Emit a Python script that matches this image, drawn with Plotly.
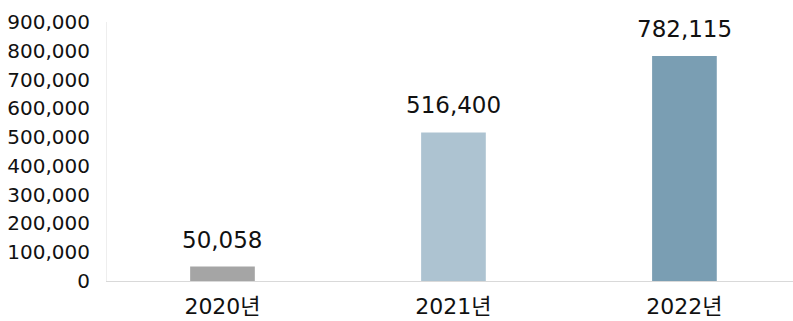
import plotly.graph_objects as go

# Yearly totals
years = ["2020년", "2021년", "2022년"]
values = [50058, 516400, 782115]
bar_colors = ["#A5A5A5", "#ADC3D1", "#7A9EB3"]
y_ticks = [0, 100000, 200000, 300000, 400000, 500000, 600000, 700000, 800000, 900000]

FONT = "DejaVu Sans, Noto Sans CJK KR"

fig = go.Figure(
    go.Bar(
        x=years,
        y=values,
        marker=dict(color=bar_colors, line=dict(width=0)),
        width=0.28,
        hoverinfo="skip",
    )
)

# Value labels above each bar
for yr, v in zip(years, values):
    fig.add_annotation(
        x=yr, y=v, text=f"{v:,}", showarrow=False,
        yanchor="bottom", yshift=12,
        font=dict(family=FONT, size=23, color="#111111"),
    )

fig.update_layout(
    width=793, height=321,
    margin=dict(l=107, r=0, t=22, b=40),
    plot_bgcolor="white", paper_bgcolor="white",
    showlegend=False,
    font=dict(family=FONT, color="#111111"),
    xaxis=dict(
        type="category", range=[-0.5, 2.47],
        showgrid=False, showline=True, linecolor="#D9D9D9", linewidth=1,
        tickfont=dict(size=22), ticks="", ticklabelstandoff=6,
    ),
    yaxis=dict(
        range=[0, 900000], tickvals=y_ticks,
        ticktext=[f"{t:,}" for t in y_ticks],
        showgrid=False, showline=True, linecolor="#EEEEEE", linewidth=1,
        zeroline=False, tickfont=dict(size=20), ticks="", ticklabelstandoff=12,
    ),
)

fig.write_html("out.html")
